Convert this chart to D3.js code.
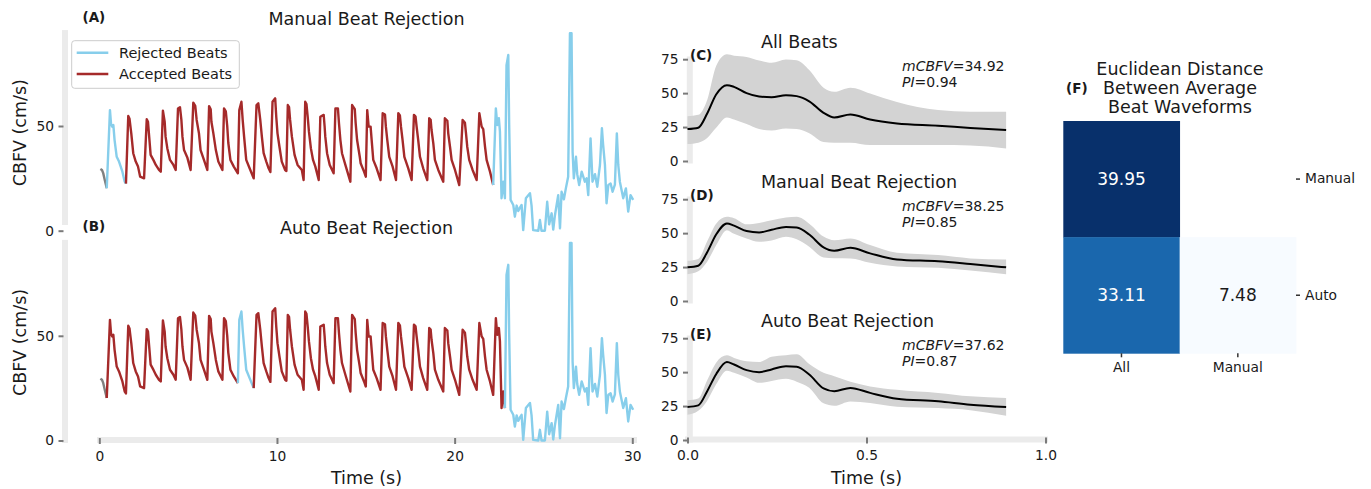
<!DOCTYPE html>
<html>
<head>
<meta charset="utf-8">
<script src="https://cdn.jsdelivr.net/npm/d3@7"></script>
<style>
body { margin: 0; background: #fff; }
svg text { font-family: "DejaVu Sans", sans-serif; fill: #1a1a1a; }
</style>
</head>
<body>
<svg id="fig" width="1371" height="489"></svg>
<script>
// ---- raw CBFV recording, [time (s), cm/s]
var cbfvTrace = [
 [0.06,29.5],[0.15,29.0],[0.22,27.5],[0.3,24.5],[0.42,20.3],
 [0.6,57.6],[0.66,51],[0.73,49.7],[0.79,50.5],[0.86,43.3],[0.98,35.3],[1.11,33],[1.3,28.2],[1.43,23.4],[1.5,22.5],
 [1.63,54.8],[1.7,53.5],[1.8,46.5],[1.91,37],[2.05,33],[2.18,30.6],[2.3,25.8],[2.52,25],
 [2.67,53.2],[2.74,52],[2.8,45.7],[2.89,36.2],[3.05,33.7],[3.18,31.4],[3.36,29],[3.46,28.2],
 [3.58,57.3],[3.68,52],[3.73,44.9],[3.83,39.3],[3.98,33.8],[4.17,31.4],[4.3,29],
 [4.43,58.4],[4.54,59],[4.62,52.9],[4.68,44.9],[4.77,38.5],[4.96,34.8],[5.14,29],
 [5.29,61.1],[5.4,59.6],[5.48,52.9],[5.61,46.5],[5.7,38.5],[5.89,33.8],[6.08,29],
 [6.18,59.5],[6.27,58],[6.31,52],[6.42,46.5],[6.56,38.5],[6.7,33],[6.93,29],
 [7.02,58.4],[7.12,57],[7.2,50],[7.26,42],[7.38,33.8],[7.57,30.6],[7.8,27.4],
 [7.88,57.6],[8.0,61.6],[8.07,52.9],[8.15,44.9],[8.27,33.8],[8.46,29.8],[8.69,25],
 [8.85,60],[8.95,60.8],[9.06,52.9],[9.15,44.9],[9.25,37],[9.4,33],[9.53,29.8],[9.63,28],
 [9.75,61.6],[9.9,63.2],[9.96,54.4],[10.03,46.5],[10.14,40.1],[10.27,33],[10.46,29],[10.53,28.5],
 [10.61,60],[10.68,59],[10.74,52.9],[10.84,44.9],[10.99,36.2],[11.16,31.4],[11.4,29],[11.5,24.2],
 [11.59,61.6],[11.66,60.5],[11.73,54.4],[11.8,47.3],[11.91,39.3],[12.03,33.8],[12.16,30.6],[12.35,24.2],
 [12.44,54.4],[12.63,55.3],[12.68,50],[12.72,44.9],[12.82,37],[12.97,31.4],[13.19,27.4],
 [13.29,58.4],[13.43,58.4],[13.49,51.3],[13.57,43.3],[13.66,37],[13.85,31.4],[14.13,23.4],
 [14.23,60],[14.38,58],[14.43,51.3],[14.51,43.3],[14.66,35.3],[14.71,32.2],[14.9,28.2],[15.0,25.8],
 [15.08,57.6],[15.16,49.7],[15.27,49.7],[15.33,43.3],[15.42,33.8],[15.61,29.8],[15.83,24.2],
 [15.95,56.1],[16.08,55.5],[16.13,49.7],[16.21,43.3],[16.32,35.3],[16.51,30.6],[16.7,24.2],
 [16.83,56.1],[16.92,55],[16.98,49.7],[17.07,43.3],[17.17,35.3],[17.39,29.8],[17.58,24.2],
 [17.71,55.3],[17.8,54.5],[17.86,49.7],[17.95,43.3],[18.05,35.3],[18.23,29.8],[18.46,24.2],
 [18.57,53.7],[18.65,53],[18.7,48.1],[18.8,41.7],[18.89,33.8],[19.08,29],[19.36,23.4],
 [19.45,53.7],[19.59,52.5],[19.64,46.5],[19.74,40.1],[19.83,33.8],[20.02,29],[20.26,21.8],
 [20.45,52.9],[20.58,51.5],[20.64,46.5],[20.71,40.1],[20.82,33.8],[21.01,29],[21.24,24.2],
 [21.39,56.1],[21.52,49.7],[21.61,48.5],[21.71,40.1],[21.8,33.8],[21.99,28.2],[22.17,21.8],
 [22.32,58.4],[22.4,50.5],[22.49,53.7],[22.55,47.3],[22.61,26.6],[22.64,15.5],[22.74,23.4],[22.83,15.5],
 [22.92,79],[23.02,83.9],[23.07,50.5],[23.15,14.7],[23.3,12.3],[23.39,6.7],[23.49,12],[23.58,9.4],[23.68,11],
 [23.77,12.3],[23.86,0.3],[24.01,15.5],[24.24,17.9],[24.33,12],[24.42,0.3],[24.71,0],[24.8,5.1],[24.89,0],
 [25.08,0],[25.21,13.8],[25.32,3],[25.46,8.3],[25.55,0.5],[25.64,7],[25.83,17],[25.93,1.1],[26.02,18.6],
 [26.15,15],[26.26,20.2],[26.39,25.8],[26.49,94.3],[26.58,94.3],[26.64,37.7],[26.71,25],[26.83,35.3],[26.9,27],
 [27.01,21.8],[27.15,28.2],[27.33,23.4],[27.43,25],[27.52,17],[27.65,44.1],[27.76,23.4],[27.9,27],[28.03,21],
 [28.18,31.4],[28.29,48.9],[28.36,40.9],[28.46,31.4],[28.55,13.1],[28.65,21.8],[28.78,22.5],[28.89,18.6],
 [29.02,22],[29.13,46.5],[29.21,31.4],[29.3,23.4],[29.49,15.5],[29.64,20.2],[29.77,9.1],[29.9,17],[30.05,14.7]
];

// beat classification, [from, to, class]
var manualSegs = [[0,0.42,"pre"],[0.42,1.5,"rejected"],[1.5,22.17,"accepted"],[22.17,30.1,"rejected"]];
var autoSegs = [[0,0.42,"pre"],[0.42,7.8,"accepted"],[7.8,8.69,"rejected"],[8.69,22.83,"accepted"],[22.83,30.1,"rejected"]];
var traceTicksX = [0,10,20,30];
var traceTicksY = [0,50];

// average beat waveforms (mean and spread)
var beatT = [0.0,0.03,0.055,0.08,0.11,0.13,0.165,0.2,0.235,0.275,0.305,0.34,0.38,0.41,0.455,0.51,0.585,0.7,0.79,0.89];
var allMean = [23.5,24.5,35,49,55.9,54.6,50,47.5,47,48.5,47.8,44,35.5,32.1,34.3,30.6,27.7,26,24.3,22.8];
var allHi = [33,34,45,70,78.6,77.5,76.7,74,72.3,74.7,74.2,67,54,51,54,49.8,43.5,37.5,36.3,36.3];
var allLo = [12.5,13.5,17,24.5,32.1,30.5,27.2,23.5,22.5,24,23.5,20.4,14,13.5,13.5,11.8,11.8,11.8,11.5,9.3];
var manMean = [24.8,26,36,49,57.1,55.5,51.5,50.5,52.5,54.6,54.1,49,39.5,37,39.2,35.1,30.6,29.2,27.2,24.8];
var manHi = [29.6,31,44,57,62,61,56.5,57.5,59.5,61.5,62,57,47.5,44.8,46.1,41.2,35.5,33.8,31.4,30.6];
var manLo = [19.8,22,29,41,52.2,49.5,46,43.6,44.5,47.3,45.5,40,32.1,31.5,31.4,28.2,25.5,24.5,22.5,19.8];
var autoMean = [24.3,25.5,36,48.5,57.4,55.6,51.5,50,52,54.4,54,48.3,38,35.9,38.4,34.7,30.4,28.5,26,24.3];
var autoHi = [29.2,30.5,44,57,62.4,60.5,58,57.5,61.4,62.5,63.1,56,49.5,47,43,39.5,37,34.7,32.2,31];
var autoLo = [18.6,21.5,29,41,51,49.5,46,42.1,43.5,45.1,43,38.5,27,25.2,28.4,27.2,24.5,23.5,22,17.8];
var beatTicksX = [0,0.5,1];
var beatTicksY = [0,25,50,75];
var mcbfv = ["34.92","38.25","37.62"];
var pulsIdx = ["0.94","0.85","0.87"];

// euclidean distance matrix
var distRows = ["Manual","Auto"];
var distCols = ["All","Manual"];
var distVals = [[39.95,null],[33.11,7.48]];

var svg = d3.select("#fig");
var spineColor = "#ebebeb";
var tickColor = "#7a7a7a";
var segColors = {pre:"#808080", rejected:"#87ceeb", accepted:"#a52a2a"};

var styleAxis = function(g, size)
{
    g.select(".domain").remove();
    g.selectAll(".tick line").attr("stroke", tickColor).attr("stroke-width", 2);
    g.selectAll(".tick text").style("font-size", size + "px");
}

var addText = function(x, y, str, size, anchor, weight)
{
    return svg.append("text")
        .attr("x", x).attr("y", y)
        .attr("text-anchor", anchor || "start")
        .style("font-size", size + "px")
        .style("font-weight", weight || "normal")
        .text(str);
}

//---------- panels A and B
var xTrace = d3.scaleLinear().domain([0,30]).range([99.3,632.3]);

var drawTrace = function(segs, zeroY, spineEnd, label, title, showX)
{
    var y = d3.scaleLinear().domain([0,50]).range([zeroY, zeroY - 104.7]);
    var top = y(95.8);

    svg.append("rect").attr("x",62).attr("y",top)
        .attr("width",6).attr("height",spineEnd - top).attr("fill",spineColor);
    if (showX) {
        svg.append("rect").attr("x",97).attr("y",zeroY - 3.5)
            .attr("width",540).attr("height",6).attr("fill",spineColor);
        var gx = svg.append("g").attr("transform","translate(0,"+(zeroY - 2.5)+")")
            .call(d3.axisBottom(xTrace).tickValues(traceTicksX).tickSize(6).tickPadding(7));
        styleAxis(gx, 13.8);
    }
    var gy = svg.append("g").attr("transform","translate(63.5,0)")
        .call(d3.axisLeft(y).tickValues(traceTicksY).tickSize(5).tickPadding(4.5));
    styleAxis(gy, 13.8);

    var line = d3.line().x(function(d){ return xTrace(d[0]); })
        .y(function(d){ return y(d[1]); });

    segs.forEach(function(s)
    {
        var pts = cbfvTrace.filter(function(d){ return d[0] >= s[0] && d[0] <= s[1]; });
        svg.append("path").attr("d", line(pts))
            .attr("fill","none").attr("stroke", segColors[s[2]])
            .attr("stroke-width",2.4).attr("stroke-linejoin","round");
    });

    addText(82.5, zeroY - 209.2, label, 13.5, "start", "bold");
    addText(366.5, zeroY - 206.2, title, 17.5, "middle");
    svg.append("text")
        .attr("transform","translate(26,"+(zeroY - 98)+") rotate(-90)")
        .attr("text-anchor","middle").style("font-size","17.5px")
        .text("CBFV (cm/s)");
}

drawTrace(manualSegs, 230.7, 225, "(A)", "Manual Beat Rejection", false);
drawTrace(autoSegs, 440.5, 443, "(B)", "Auto Beat Rejection", true);
addText(366.5, 484, "Time (s)", 17.5, "middle");

// legend
svg.append("rect").attr("x",71.7).attr("y",40.7).attr("width",167.6).attr("height",47.6)
    .attr("rx",3).attr("fill","#fff").attr("fill-opacity",0.85).attr("stroke","#cccccc");
[["Rejected Beats","rejected",52.7],["Accepted Beats","accepted",74]].forEach(function(l)
{
    svg.append("line").attr("x1",76.7).attr("x2",108.3).attr("y1",l[2]).attr("y2",l[2])
        .attr("stroke",segColors[l[1]]).attr("stroke-width",2.4);
    addText(119, l[2] + 5.3, l[0], 14.5);
});

//---------- panels C, D, E
var xBeat = d3.scaleLinear().domain([0,1]).range([687.5,1045.5]);

var drawBeat = function(mean, lo, hi, zeroY, label, title, k, showX)
{
    var y = d3.scaleLinear().domain([0,75]).range([zeroY, zeroY - 101.8]);
    var rows = beatT.map(function(t,i){ return {t:t, m:mean[i], lo:lo[i], hi:hi[i]}; });

    svg.append("rect").attr("x",686.8).attr("y",y(77))
        .attr("width",6).attr("height",zeroY + 2.5 - y(77)).attr("fill",spineColor);
    if (showX) {
        svg.append("rect").attr("x",685).attr("y",zeroY - 3.5)
            .attr("width",363).attr("height",6).attr("fill",spineColor);
        var gx = svg.append("g").attr("transform","translate(0,"+(zeroY - 2.5)+")")
            .call(d3.axisBottom(xBeat).tickValues(beatTicksX).tickFormat(d3.format(".1f"))
                .tickSize(6).tickPadding(7));
        styleAxis(gx, 13.8);
    }
    var gy = svg.append("g").attr("transform","translate(688,0)")
        .call(d3.axisLeft(y).tickValues(beatTicksY).tickSize(5).tickPadding(4.5));
    styleAxis(gy, 13.8);

    var area = d3.area().curve(d3.curveMonotoneX)
        .x(function(d){ return xBeat(d.t); })
        .y0(function(d){ return y(d.lo); })
        .y1(function(d){ return y(d.hi); });
    var line = d3.line().curve(d3.curveMonotoneX)
        .x(function(d){ return xBeat(d.t); })
        .y(function(d){ return y(d.m); });

    svg.append("path").attr("d", area(rows)).attr("fill","#d3d3d3");
    svg.append("path").attr("d", line(rows)).attr("fill","none")
        .attr("stroke","#000").attr("stroke-width",2);

    addText(690, zeroY - 101.3, label, 13.5, "start", "bold");
    addText(761, zeroY - 113.5, title, 17.5, "start");

    // two stacked stats lines, kept apart so they do not collide
    var t1 = svg.append("text").attr("x",902).attr("y",zeroY - 90).style("font-size","14px");
    t1.append("tspan").style("font-style","italic").text("mCBFV");
    t1.append("tspan").text("=" + mcbfv[k]);
    var t2 = svg.append("text").attr("x",902).attr("y",zeroY - 74.5).style("font-size","14px");
    t2.append("tspan").style("font-style","italic").text("PI");
    t2.append("tspan").text("=" + pulsIdx[k]);
}

drawBeat(allMean, allLo, allHi, 161, "(C)", "All Beats", 0, false);
drawBeat(manMean, manLo, manHi, 301, "(D)", "Manual Beat Rejection", 1, false);
drawBeat(autoMean, autoLo, autoHi, 440, "(E)", "Auto Beat Rejection", 2, true);
addText(866.5, 484, "Time (s)", 17.5, "middle");

//---------- panel F
var hx = d3.scaleBand().domain(distCols).range([1063.3,1296]);
var hy = d3.scaleBand().domain(distRows).range([121,353.3]);

var cells = [];
distRows.forEach(function(r,i)
{
    distCols.forEach(function(c,j)
    {
        if (distVals[i][j] != null) cells.push({r:r, c:c, v:distVals[i][j]});
    });
});
var vExt = d3.extent(cells, function(d){ return d.v; });
var heatColor = d3.scaleSequential(d3.interpolateBlues).domain(vExt);

svg.selectAll(".cell").data(cells).enter().append("rect")
    .attr("x", function(d){ return hx(d.c); })
    .attr("y", function(d){ return hy(d.r); })
    .attr("width", hx.bandwidth() + 0.4)
    .attr("height", hy.bandwidth() + 0.4)
    .attr("fill", function(d){ return heatColor(d.v); });

svg.selectAll(".cellText").data(cells).enter().append("text")
    .attr("x", function(d){ return hx(d.c) + hx.bandwidth()/2; })
    .attr("y", function(d){ return hy(d.r) + hy.bandwidth()/2 + 6.2; })
    .attr("text-anchor","middle").style("font-size","17px")
    .style("fill", function(d){ return d.v > (vExt[0]+vExt[1])/2 ? "#ffffff" : "#1a1a1a"; })
    .text(function(d){ return d.v.toFixed(2); });

var hgx = svg.append("g").attr("transform","translate(0,353.3)")
    .call(d3.axisBottom(hx).tickSize(4).tickPadding(5));
styleAxis(hgx, 13.8);
hgx.selectAll(".tick line").attr("stroke","#333").attr("stroke-width",1.5);
var hgy = svg.append("g").attr("transform","translate(1296,0)")
    .call(d3.axisRight(hy).tickSize(4).tickPadding(5));
styleAxis(hgy, 13.8);
hgy.selectAll(".tick line").attr("stroke","#333").attr("stroke-width",1.5);

["Euclidean Distance","Between Average","Beat Waveforms"].forEach(function(s,i)
{
    addText(1180, 74.5 + i*19.2, s, 17.5, "middle");
});
addText(1066, 93, "(F)", 13.5, "start", "bold");
</script>
</body>
</html>
